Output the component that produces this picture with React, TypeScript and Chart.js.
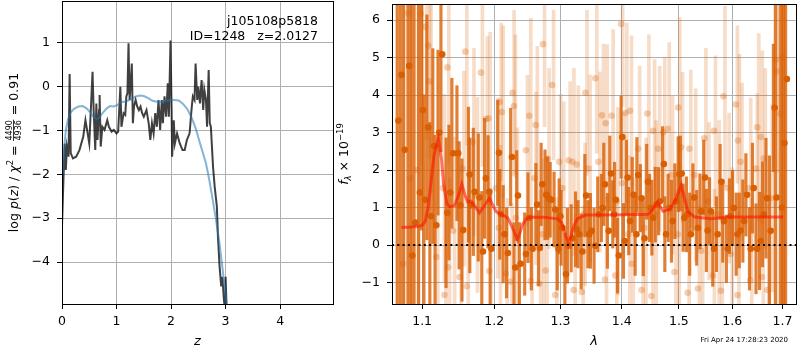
import React, { useEffect, useRef } from 'react';
import { Chart, registerables } from 'chart.js';

Chart.register(...registerables);

const FAMILY = "'DejaVu Sans', 'Liberation Sans', sans-serif";
const TICK_SIZE = 12.5;
const GRID = '#b0b0b0';

// ---------------- left panel: p(z) ----------------
const Z_LOGPZ = [
  0.0, 0.03, 0.05, 0.07, 0.09, 0.12, 0.14, 0.16, 0.2, 0.26,
  0.32, 0.39, 0.43, 0.46, 0.5, 0.52, 0.56, 0.58, 0.61, 0.63,
  0.65, 0.68, 0.69, 0.71, 0.74, 0.78, 0.83, 0.86, 0.91, 0.95,
  1.0, 1.03, 1.07, 1.09, 1.13, 1.16, 1.18, 1.2, 1.22, 1.24,
  1.26, 1.28, 1.3, 1.32, 1.35, 1.38, 1.41, 1.44, 1.47, 1.5,
  1.55, 1.59, 1.62, 1.65, 1.68, 1.71, 1.74, 1.77, 1.8, 1.83,
  1.85, 1.88, 1.91, 1.94, 1.96, 1.99, 2.01, 2.02, 2.05, 2.07,
  2.11, 2.16, 2.21, 2.25, 2.29, 2.34, 2.38, 2.4, 2.43, 2.45,
  2.48, 2.5, 2.53, 2.56, 2.59, 2.61, 2.64, 2.66, 2.69, 2.71,
  2.73, 2.77, 2.8, 2.82, 2.84, 2.86, 2.89, 2.92, 2.94, 2.97,
  2.99, 3.0, 3.02,
];
const LOGPZ = [
  -3.19, -1.98, -1.3, -1.9, -1.37, -1.6, 0.28, -1.52, -1.64, -1.6,
  -1.45, -1.14, -0.77, -0.99, -1.3, -0.77, 0.33, -0.54, -1.45, -0.39,
  -1.22, -0.54, -0.2, -1.37, -0.92, -0.99, -0.77, -0.92, -1.03, -0.99,
  -1.07, -1.03, -0.01, -0.92, -0.61, -0.65, -0.23, -0.16, 0.98, -0.31,
  0.07, 0.52, -0.84, -0.46, -0.31, -0.46, -0.54, -0.46, -0.61, -0.69,
  -0.54, -0.84, -1.22, -0.84, -1.07, -0.61, -0.92, -0.31, -0.99, -0.31,
  -0.84, -0.23, -0.69, 0.07, -0.69, 1.04, -0.54, -1.6, -0.77, -1.3,
  -1.07, -1.3, -1.45, -1.45, -1.22, -1.07, -0.46, -0.23, -0.31, 0.52,
  -0.31, -0.01, -0.39, 0.14, -0.54, -0.08, -0.31, -0.92, 0.37, -0.84,
  -0.92, -1.83, -2.28, -2.51, -2.73, -3.42, -4.1, -4.55, -4.33, -4.86,
  -5.08, -4.33, -5.1,
];
const Z_CHI2 = [
  0.02, 0.04, 0.07, 0.11, 0.16, 0.22, 0.3, 0.38, 0.45, 0.52,
  0.58, 0.63, 0.68, 0.75, 0.82, 0.88, 0.95, 1.02, 1.09, 1.18,
  1.26, 1.35, 1.43, 1.5, 1.58, 1.66, 1.74, 1.82, 1.9, 1.98,
  2.06, 2.14, 2.22, 2.3, 2.38, 2.45, 2.52, 2.58, 2.64, 2.7,
  2.76, 2.82, 2.88, 2.94, 3.0, 3.03,
];
const LOGP_CHI2 = [
  -1.98, -1.4, -1.0, -0.75, -0.59, -0.51, -0.46, -0.45, -0.5, -0.6,
  -0.7, -0.74, -0.72, -0.6, -0.5, -0.45, -0.46, -0.42, -0.36, -0.34,
  -0.3, -0.23, -0.21, -0.22, -0.27, -0.33, -0.35, -0.35, -0.33, -0.31,
  -0.31, -0.32, -0.4, -0.52, -0.72, -0.95, -1.25, -1.5, -1.75, -2.12,
  -2.55, -3.0, -3.5, -4.1, -4.75, -5.1,
];
const Z_TICKS = [0, 1, 2, 3, 4];
const LOGP_TICKS = [-4, -3, -2, -1, 0, 1];
const Z_MIN = 0, Z_MAX = 4.97;
const LOGP_MIN = -4.95, LOGP_MAX = 1.94;
const NAME_TEXT = 'j105108p5818';
const ID_TEXT = 'ID=1248   z=2.0127';
const CHI_NUM = '4490';
const CHI_DEN = '4936';
const CHI_RATIO = '0.91';

// ---------------- right panel: spectrum ----------------
const LAM_TICKS = [1.1, 1.2, 1.3, 1.4, 1.5, 1.6, 1.7];
const FLUX_TICKS = [-1, 0, 1, 2, 3, 4, 5, 6];
const LAM_MIN = 1.0607, LAM_MAX = 1.728;
const FLUX_MIN = -1.572, FLUX_MAX = 6.431;

const DARK_WAVE = [
  1.069, 1.073, 1.077, 1.083, 1.087, 1.091, 1.097, 1.101, 1.104, 1.108,
  1.112, 1.116, 1.119, 1.123, 1.127, 1.134, 1.138, 1.142, 1.149, 1.152,
  1.156, 1.165, 1.167, 1.172, 1.179, 1.184, 1.188, 1.193, 1.196, 1.207,
  1.21, 1.215, 1.22, 1.226, 1.231, 1.235, 1.239, 1.247, 1.252, 1.257,
  1.264, 1.268, 1.272, 1.278, 1.282, 1.286, 1.292, 1.297, 1.3, 1.303,
  1.309, 1.313, 1.319, 1.326, 1.33, 1.335, 1.341, 1.346, 1.35, 1.356,
  1.362, 1.368, 1.372, 1.378, 1.382, 1.387, 1.39, 1.395, 1.401, 1.405,
  1.41, 1.414, 1.42, 1.425, 1.428, 1.434, 1.439, 1.445, 1.45, 1.454,
  1.46, 1.466, 1.473, 1.477, 1.483, 1.489, 1.495, 1.501, 1.505, 1.51,
  1.516, 1.522, 1.528, 1.535, 1.541, 1.548, 1.553, 1.559, 1.565, 1.572,
  1.579, 1.584, 1.591, 1.597, 1.603, 1.61, 1.616, 1.623, 1.629, 1.636,
  1.642, 1.649, 1.656, 1.662, 1.669, 1.676, 1.684, 1.688, 1.699, 1.704,
  1.709,
];
const DARK_FLUX = [
  3.32, 4.54, 2.54, 4.78, -0.28, 0.6, 1.4, 3.6, 1.21, 3.14,
  0.77, 2.64, 0.53, 3.0, 5.09, 0.86, 1.4, 2.45, 2.45, 1.06,
  0.4, 1.88, 1.06, 1.42, 1.27, -0.17, 1.78, 1.42, -0.1, 2.46,
  0.82, 0.29, -0.21, 2.35, -0.6, 1.32, -0.5, -0.24, 0.73, -0.1,
  1.08, -0.08, 1.62, 1.34, 1.25, 1.21, 0.95, -0.1, 0.77, 0.46,
  -0.78, -0.02, 0.18, 0.42, 0.29, -0.17, 1.32, 0.29, 0.38, -0.02,
  0.82, 0.99, 1.62, 0.38, 1.91, 0.82, 1.21, -0.28, 2.88, 0.11,
  1.8, 0.64, 1.34, 0.29, 1.87, 1.25, 0.18, 1.69, 0.99, 0.73,
  1.08, 1.17, 2.16, 0.29, 0.99, 0.64, 1.17, 1.89, 1.91, 0.73,
  0.82, 0.29, 1.27, 0.46, 0.9, 1.8, 0.39, 0.9, -0.1, 0.29,
  1.69, 0.64, -0.1, 0.77, 0.99, 0.29, 0.39, 0.64, 1.34, -0.1,
  1.52, -0.1, 0.11, 0.82, 1.25, 0.38, 3.66, 1.27, 1.0, 2.72,
  4.43,
];
const DARK_ERR = [
  10, 10, 10, 10, 10, 10, 8, 3.2, 2.8, 3.0,
  2.5, 2.6, 2.4, 2.2, 2.6, 2.0, 1.8, 2.0, 1.8, 1.7,
  1.9, 1.8, 1.8, 1.7, 1.7, 1.6, 1.6, 1.5, 1.5, 1.4,
  1.2, 1.3, 1.2, 1.3, 1.2, 1.2, 1.1, 1.1, 1.2, 1.1,
  1.1, 1.0, 1.1, 1.2, 1.1, 1.0, 1.0, 1.1, 1.0, 1.0,
  1.1, 1.0, 0.9, 1.0, 0.9, 1.0, 1.1, 0.9, 1.0, 1.0,
  1.0, 0.9, 1.1, 1.0, 1.0, 0.9, 1.0, 1.0, 1.1, 1.0,
  1.0, 0.9, 1.0, 1.1, 1.0, 0.9, 1.0, 1.0, 0.9, 1.0,
  1.0, 0.9, 1.0, 1.0, 0.9, 1.1, 1.0, 1.0, 1.0, 0.9,
  1.0, 1.1, 0.9, 1.0, 1.0, 1.0, 1.1, 0.9, 1.0, 1.0,
  1.0, 1.1, 0.9, 1.0, 1.0, 1.1, 1.0, 1.1, 1.1, 1.1,
  1.2, 1.2, 1.3, 1.4, 1.6, 2.0, 1.7, 6.0, 10, 10,
  10,
];

const LIGHT_WAVE = [
  1.075, 1.082, 1.084, 1.093, 1.098, 1.104, 1.108, 1.11, 1.119, 1.128,
  1.13, 1.134, 1.135, 1.142, 1.151, 1.155, 1.159, 1.161, 1.169, 1.174,
  1.181, 1.188, 1.192, 1.193, 1.203, 1.207, 1.208, 1.211, 1.217, 1.224,
  1.227, 1.229, 1.232, 1.247, 1.252, 1.254, 1.26, 1.262, 1.267, 1.272,
  1.273, 1.277, 1.28, 1.287, 1.292, 1.298, 1.303, 1.313, 1.319, 1.321,
  1.326, 1.334, 1.337, 1.34, 1.345, 1.356, 1.361, 1.367, 1.372, 1.373,
  1.383, 1.389, 1.391, 1.399, 1.4, 1.406, 1.411, 1.414, 1.417, 1.428,
  1.434, 1.439, 1.444, 1.451, 1.454, 1.457, 1.463, 1.472, 1.48, 1.486,
  1.492, 1.498, 1.499, 1.504, 1.516, 1.519, 1.528, 1.535, 1.541, 1.547,
  1.553, 1.563, 1.565, 1.572, 1.578, 1.583, 1.591, 1.597, 1.607, 1.61,
  1.611, 1.616, 1.633, 1.635, 1.646, 1.649, 1.656, 1.658, 1.662, 1.669,
  1.676, 1.686, 1.688, 1.695, 1.7,
];
const LIGHT_FLUX = [
  -0.5, 6.18, 1.78, 2.0, 6.17, 5.82, 5.32, 4.37, -0.32, 1.52,
  -1.33, 4.74, -0.59, 0.38, -0.85, 2.04, 5.16, -1.1, 2.75, 1.34,
  4.6, 3.36, 3.38, -0.69, 1.52, 0.46, 3.82, 3.55, -0.76, -0.98,
  4.06, 3.71, 0.73, 2.53, 3.45, -0.96, 1.78, 3.2, -1.03, 0.29,
  5.36, -0.68, 2.31, 4.27, -1.33, 2.22, 1.52, 2.26, 2.22, -1.2,
  2.15, -1.25, 0.82, 4.06, 2.04, 4.45, 2.22, 3.46, -0.92, 3.25,
  3.45, -0.81, 1.17, 5.9, 1.65, 3.52, 0.29, 3.58, -0.5, 2.57,
  -1.2, 0.46, 3.51, -1.36, 3.05, 0.82, 2.57, 3.01, 3.1, 1.87,
  -0.72, 0.29, 3.67, 2.61, -1.27, 2.57, 1.87, -1.16, -0.15, 2.85,
  1.17, -0.81, 3.05, 0.82, -1.22, 3.97, 1.52, -0.24, 3.75, -1.33,
  2.79, 2.22, 1.52, -0.94, 2.04, 3.14, 2.88, -0.85, 2.31, -1.2,
  1.25, 4.94, 4.63, 3.5, 5.0,
];
const LIGHT_ERR = [
  10, 10, 10, 6, 4, 3, 3, 3, 3, 2.5,
  2.5, 2.6, 2.4, 2.5, 2.3, 2.6, 2.5, 2.4, 2.5, 2.6,
  2.5, 2.2, 2.3, 2.2, 2.4, 2.2, 2.1, 2.3, 2.0, 2.1,
  2.2, 1.9, 2.4, 2.0, 2.6, 1.8, 2.3, 2.1, 2.5, 2.0,
  2.2, 1.9, 2.4, 2.0, 2.6, 1.8, 2.3, 2.1, 2.5, 2.0,
  2.1, 2.3, 1.9, 2.2, 2.5, 2.0, 2.4, 1.9, 2.2, 2.1,
  2.3, 2.0, 2.5, 2.2, 1.9, 2.4, 2.1, 2.0, 2.3, 2.2,
  2.0, 2.4, 2.1, 2.3, 1.9, 2.5, 2.2, 2.0, 2.3, 2.1,
  2.2, 1.9, 2.4, 2.0, 2.5, 2.1, 2.3, 2.2, 1.9, 2.4,
  2.1, 2.3, 2.0, 2.5, 2.2, 2.4, 2.0, 2.3, 2.1, 2.2,
  2.3, 2.1, 2.4, 2.2, 2.0, 2.5, 2.3, 2.2, 2.4, 2.3,
  2.5, 3.0, 8, 10, 10,
];

const MODEL_WAVE = [
  1.073, 1.085, 1.095, 1.1, 1.104, 1.108, 1.112, 1.116, 1.1218, 1.126,
  1.129, 1.1335, 1.1375, 1.144, 1.149, 1.1541, 1.159, 1.1623, 1.167, 1.172,
  1.1788, 1.186, 1.1931, 1.2026, 1.21, 1.2195, 1.226, 1.2343, 1.2385, 1.2418,
  1.248, 1.2517, 1.275, 1.2949, 1.302, 1.3053, 1.309, 1.3132, 1.317, 1.321,
  1.327, 1.3397, 1.36, 1.4, 1.4454, 1.452, 1.4617, 1.4718, 1.4836, 1.494,
  1.5043, 1.51, 1.5165, 1.5287, 1.5596, 1.5909, 1.65, 1.7015,
];
const MODEL_FLUX = [
  0.47, 0.48, 0.5, 0.53, 0.62, 1.0, 1.7, 2.4, 2.85, 2.3,
  1.6, 1.1, 1.02, 1.06, 1.3, 1.62, 1.3, 1.15, 1.17, 1.05,
  0.86, 1.05, 1.25, 0.9, 0.82, 0.73, 0.5, 0.14, 0.35, 0.55,
  0.7, 0.74, 0.74, 0.7, 0.6, 0.45, 0.2, 0.06, 0.25, 0.5,
  0.7, 0.8, 0.8, 0.81, 0.82, 0.92, 1.15, 0.9, 0.95, 1.2,
  1.6, 1.25, 0.9, 0.75, 0.7, 0.75, 0.75, 0.75,
];
const ZERO_LEVEL = 0;
const TIMESTAMP = 'Fri Apr 24 17:28:23 2020';

// ---------------- helpers ----------------
const fmt = (v: number, d: number) => (v < 0 ? '\u2212' : '') + Math.abs(v).toFixed(d);

type TextSeg = { text: string; italic?: boolean; size: number; dy?: number };
type FracSeg = { num: string; den: string; size: number };
type Seg = TextSeg | FracSeg;

const fontOf = (size: number, italic?: boolean) => `${italic ? 'italic ' : ''}${size}px ${FAMILY}`;

function segWidth(ctx: CanvasRenderingContext2D, s: Seg): number {
  if ('num' in s) {
    ctx.font = fontOf(s.size);
    return Math.max(ctx.measureText(s.num).width, ctx.measureText(s.den).width) + 2;
  }
  ctx.font = fontOf(s.size, s.italic);
  return ctx.measureText(s.text).width;
}

function drawVerticalRich(ctx: CanvasRenderingContext2D, segs: Seg[], cx: number, cy: number, base: number) {
  ctx.save();
  ctx.translate(cx, cy);
  ctx.rotate(-Math.PI / 2);
  ctx.fillStyle = '#000';
  ctx.textBaseline = 'alphabetic';
  const total = segs.reduce((a, s) => a + segWidth(ctx, s), 0);
  let x = -total / 2;
  for (const s of segs) {
    const w = segWidth(ctx, s);
    if ('num' in s) {
      ctx.font = fontOf(s.size);
      ctx.textAlign = 'center';
      ctx.fillText(s.num, x + w / 2, base - 5.6);
      ctx.fillText(s.den, x + w / 2, base + 3.2);
      ctx.fillRect(x + 0.5, base - 4.5, w - 1, 0.8);
    } else {
      ctx.font = fontOf(s.size, s.italic);
      ctx.textAlign = 'left';
      ctx.fillText(s.text, x, base + (s.dy || 0));
    }
    x += w;
  }
  ctx.restore();
}

function strokeBox(ctx: CanvasRenderingContext2D, a: { left: number; top: number; right: number; bottom: number }) {
  ctx.save();
  ctx.strokeStyle = '#000';
  ctx.lineWidth = 1;
  ctx.strokeRect(a.left + 0.5, a.top + 0.5, a.right - a.left, a.bottom - a.top);
  ctx.restore();
}

const tickOpts = (cb: (v: number) => string, padding: number) => ({
  font: { family: FAMILY, size: TICK_SIZE },
  color: '#000',
  padding,
  maxRotation: 0,
  autoSkip: false,
  callback: (v: any) => cb(Number(v)),
});
const gridOpts = { color: GRID, lineWidth: 1, tickLength: 5, tickColor: '#000', tickWidth: 1, offset: false };
const borderOpts = { color: '#000', width: 1 };

const fitX = (s: any) => { s.height = 46; s.paddingLeft = 0; s.paddingRight = 0; };
const fitY = (s: any) => { s.width = 62; s.paddingTop = 0; s.paddingBottom = 0; };

const leftDecor = {
  id: 'leftDecor',
  afterDraw(chart: any) {
    const { ctx, chartArea: a } = chart;
    strokeBox(ctx, a);
    ctx.save();
    ctx.fillStyle = '#000';
    ctx.font = fontOf(12.5);
    ctx.textAlign = 'right';
    ctx.textBaseline = 'alphabetic';
    ctx.fillText(NAME_TEXT, a.right - 15, a.top + 24);
    ctx.fillText(ID_TEXT, a.right - 15, a.top + 38.5);
    ctx.restore();
    const S = 12.5, s = 8.5;
    drawVerticalRich(ctx, [
      { text: 'log ', size: S },
      { text: 'p', size: S, italic: true },
      { text: '(', size: S },
      { text: 'z', size: S, italic: true },
      { text: ') / ', size: S },
      { text: '\u03c7', size: S, italic: true },
      { text: '2', size: s, dy: -5 },
      { text: ' = ', size: S },
      { num: CHI_NUM, den: CHI_DEN, size: 8 },
      { text: ' = ' + CHI_RATIO, size: S },
    ], 13, (a.top + a.bottom) / 2, 4.5);
  },
};

const rightDecor = {
  id: 'rightDecor',
  afterDraw(chart: any) {
    const { ctx, chartArea: a } = chart;
    strokeBox(ctx, a);
    const S = 12.5, s = 8.5;
    drawVerticalRich(ctx, [
      { text: 'f', size: S, italic: true },
      { text: '\u03bb', size: s, italic: true, dy: 2.5 },
      { text: ' \u00d7 10', size: S },
      { text: '\u221219', size: s, dy: -5.5 },
    ], 13.5, (a.top + a.bottom) / 2, 4.5);
    ctx.save();
    ctx.fillStyle = '#000';
    ctx.font = fontOf(7);
    ctx.textAlign = 'right';
    ctx.textBaseline = 'alphabetic';
    ctx.fillText(TIMESTAMP, chart.width - 12, 342);
    ctx.restore();
  },
};

function leftConfig(): any {
  return {
    type: 'line',
    data: {
      datasets: [
        {
          data: Z_CHI2.map((z, i) => ({ x: z, y: LOGP_CHI2[i] })),
          borderColor: 'rgba(31,119,180,0.55)',
          borderWidth: 2,
          pointRadius: 0,
          tension: 0,
          clip: 0,
          order: 0,
        },
        {
          data: Z_LOGPZ.map((z, i) => ({ x: z, y: LOGPZ[i] })),
          borderColor: 'rgba(0,0,0,0.75)',
          borderWidth: 2,
          pointRadius: 0,
          tension: 0,
          clip: 0,
          order: 1,
        },
      ],
    },
    options: {
      animation: false,
      responsive: false,
      devicePixelRatio: 1,
      events: [],
      layout: { padding: { top: 1, right: 7, left: 0, bottom: 0 } },
      plugins: { legend: { display: false }, tooltip: { enabled: false } },
      scales: {
        x: {
          type: 'linear',
          min: Z_MIN,
          max: Z_MAX,
          afterBuildTicks: (s: any) => { s.ticks = Z_TICKS.map((v) => ({ value: v })); },
          afterFit: fitX,
          ticks: tickOpts((v) => fmt(v, 0), 5),
          grid: gridOpts,
          border: borderOpts,
          title: { display: true, text: 'z', color: '#000', font: { family: FAMILY, size: 13, style: 'italic' }, padding: { top: 0, bottom: 1 } },
        },
        y: {
          type: 'linear',
          min: LOGP_MIN,
          max: LOGP_MAX,
          afterBuildTicks: (s: any) => { s.ticks = LOGP_TICKS.map((v) => ({ value: v })); },
          afterFit: fitY,
          ticks: tickOpts((v) => fmt(v, 0), 7),
          grid: gridOpts,
          border: borderOpts,
        },
      },
    },
    plugins: [leftDecor],
  };
}

function rightConfig(): any {
  const DARK = 'rgb(217,95,2)';
  return {
    type: 'bar',
    data: {
      datasets: [
        {
          type: 'line',
          data: [{ x: LAM_MIN, y: ZERO_LEVEL }, { x: LAM_MAX, y: ZERO_LEVEL }],
          borderColor: '#000',
          borderWidth: 2,
          borderDash: [2, 3.3],
          pointRadius: 0,
          clip: 0,
          order: 0,
        },
        {
          type: 'line',
          data: MODEL_WAVE.map((w, i) => ({ x: w, y: MODEL_FLUX[i] })),
          borderColor: 'rgba(255,20,0,0.6)',
          borderWidth: 3,
          pointRadius: 0,
          tension: 0,
          clip: 0,
          order: 1,
        },
        {
          type: 'line',
          data: DARK_WAVE.map((w, i) => ({ x: w, y: DARK_FLUX[i] })),
          showLine: false,
          pointRadius: 3.3,
          pointBackgroundColor: DARK,
          pointBorderWidth: 0,
          pointBorderColor: 'rgba(0,0,0,0)',
          clip: 0,
          order: 2,
        },
        {
          type: 'bar',
          xAxisID: 'x',
          data: DARK_WAVE.map((w, i) => ({ x: w, y: [DARK_FLUX[i] - DARK_ERR[i], DARK_FLUX[i] + DARK_ERR[i]] })),
          backgroundColor: 'rgba(217,95,2,0.8)',
          borderWidth: 0,
          barThickness: 2.5,
          clip: 0,
          order: 3,
        },
        {
          type: 'line',
          data: LIGHT_WAVE.map((w, i) => ({ x: w, y: LIGHT_FLUX[i] })),
          showLine: false,
          pointRadius: 3.3,
          pointBackgroundColor: 'rgba(217,95,2,0.3)',
          pointBorderWidth: 0,
          pointBorderColor: 'rgba(0,0,0,0)',
          clip: 0,
          order: 4,
        },
        {
          type: 'bar',
          xAxisID: 'x2',
          data: LIGHT_WAVE.map((w, i) => ({ x: w, y: [LIGHT_FLUX[i] - LIGHT_ERR[i], LIGHT_FLUX[i] + LIGHT_ERR[i]] })),
          backgroundColor: 'rgba(217,95,2,0.22)',
          borderWidth: 0,
          barThickness: 3,
          clip: 0,
          order: 5,
        },
      ],
    },
    options: {
      animation: false,
      responsive: false,
      devicePixelRatio: 1,
      events: [],
      layout: { padding: { top: 1, right: 1, left: 0, bottom: 0 } },
      plugins: { legend: { display: false }, tooltip: { enabled: false } },
      scales: {
        x: {
          type: 'logarithmic',
          min: LAM_MIN,
          max: LAM_MAX,
          offset: false,
          afterBuildTicks: (s: any) => { s.ticks = LAM_TICKS.map((v) => ({ value: v })); },
          afterFit: fitX,
          ticks: tickOpts((v) => v.toFixed(1), 5),
          grid: gridOpts,
          border: borderOpts,
          title: { display: true, text: '\u03bb', color: '#000', font: { family: FAMILY, size: 13, style: 'italic' }, padding: { top: 0, bottom: 1 } },
        },
        x2: {
          type: 'logarithmic',
          axis: 'x',
          position: 'bottom',
          display: false,
          min: LAM_MIN,
          max: LAM_MAX,
          offset: false,
          grid: { offset: false },
        },
        y: {
          type: 'linear',
          min: FLUX_MIN,
          max: FLUX_MAX,
          stacked: false,
          beginAtZero: false,
          afterBuildTicks: (s: any) => { s.ticks = FLUX_TICKS.map((v) => ({ value: v })); },
          afterFit: fitY,
          ticks: tickOpts((v) => fmt(v, 0), 7),
          grid: gridOpts,
          border: borderOpts,
        },
      },
    },
    plugins: [rightDecor],
  };
}

export default function App() {
  const leftRef = useRef<HTMLCanvasElement>(null);
  const rightRef = useRef<HTMLCanvasElement>(null);

  useEffect(() => {
    const charts: Chart[] = [];
    if (leftRef.current) charts.push(new Chart(leftRef.current, leftConfig()));
    if (rightRef.current) charts.push(new Chart(rightRef.current, rightConfig()));
    return () => charts.forEach((c) => c.destroy());
  }, []);

  return (
    <div style={{ position: 'absolute', left: 0, top: 0, width: 800, height: 350, background: '#fff' }}>
      <canvas ref={leftRef} width={340} height={350} style={{ position: 'absolute', left: 0, top: 0, width: 340, height: 350 }} />
      <canvas ref={rightRef} width={470} height={350} style={{ position: 'absolute', left: 330, top: 0, width: 470, height: 350 }} />
    </div>
  );
}
